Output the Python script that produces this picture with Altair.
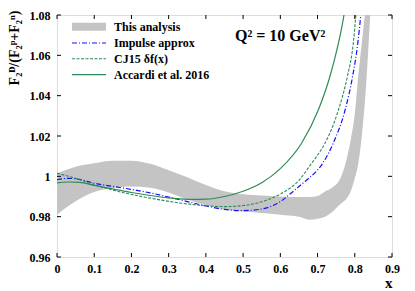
import altair as alt
import pandas as pd

# ---------------- data ----------------
band_x = [0.00, 0.05, 0.10, 0.15, 0.20, 0.25, 0.30, 0.35, 0.40, 0.45, 0.50, 0.55, 0.60, 0.65, 0.68,
          0.70, 0.72, 0.74, 0.76, 0.78, 0.79, 0.80, 0.81, 0.82, 0.83, 0.84, 0.85]
band_hi = [1.0015, 1.0048, 1.0065, 1.0077, 1.0077, 1.0062, 1.0030, 0.9995, 0.9957, 0.9926, 0.9911, 0.9905, 0.9900, 0.9897, 0.9897,
           0.9902, 0.9925, 0.9945, 0.9985, 1.0100, 1.0190, 1.0310, 1.0510, 1.0680, 1.0850, 1.1000, 1.1200]
band_lo = [0.9810, 0.9876, 0.9922, 0.9942, 0.9950, 0.9944, 0.9920, 0.9885, 0.9856, 0.9835, 0.9826, 0.9818, 0.9810, 0.9800, 0.9785,
           0.9790, 0.9800, 0.9825, 0.9860, 0.9895, 0.9930, 0.9990, 1.0070, 1.0220, 1.0440, 1.0750, 1.1100]

imp_x = [0.00, 0.03, 0.06, 0.10, 0.15, 0.20, 0.25, 0.30, 0.35, 0.40, 0.45, 0.50, 0.55, 0.60, 0.626, 0.65,
         0.671, 0.714, 0.742, 0.774, 0.794, 0.808, 0.816, 0.822]
imp_y = [0.9983, 0.9990, 0.9985, 0.9966, 0.9950, 0.9935, 0.9918, 0.9897, 0.9875, 0.9853, 0.9836, 0.9830, 0.9838, 0.9875, 0.9912, 0.9950,
         0.9982, 1.0065, 1.0164, 1.0329, 1.0494, 1.0660, 1.0800, 1.0950]

cj_x = [0.00, 0.05, 0.10, 0.15, 0.20, 0.25, 0.30, 0.35, 0.40, 0.45, 0.50, 0.55, 0.60, 0.65, 0.684, 0.70,
        0.72, 0.756, 0.78, 0.796, 0.803, 0.81]
cj_y = [1.0015, 0.9990, 0.9958, 0.9932, 0.9910, 0.9892, 0.9876, 0.9863, 0.9854, 0.9850, 0.9855, 0.9874, 0.9912, 0.9980, 1.0065, 1.0105,
        1.0164, 1.0329, 1.0494, 1.0660, 1.0800, 1.0950]

acc_x = [0.00, 0.03, 0.06, 0.10, 0.15, 0.20, 0.25, 0.30, 0.35, 0.40, 0.45, 0.50, 0.55, 0.60, 0.657,
         0.702, 0.733, 0.756, 0.771, 0.78]
acc_y = [0.9968, 0.9972, 0.9970, 0.9955, 0.9938, 0.9920, 0.9905, 0.9893, 0.9886, 0.9887, 0.9900, 0.9926, 0.9968, 1.0038, 1.0164,
         1.0329, 1.0494, 1.0660, 1.0800, 1.0920]

x_ticks = [0, 0.1, 0.2, 0.3, 0.4, 0.5, 0.6, 0.7, 0.8, 0.9]
y_ticks = [0.96, 0.98, 1.0, 1.02, 1.04, 1.06, 1.08]

legend_labels = ["This analysis", "Impulse approx", "CJ15 \u03b4f(x)", "Accardi et al. 2016"]
annotation = "Q\u00b2 = 10 GeV\u00b2"
y_title = "F\u2082\u1d30/(F\u2082\u1d56+F\u2082\u207f)"

# ---------------- styling ----------------
W, H = 335, 242
FONT = "Liberation Serif"
GRAY = "#c4c4c4"
BLUE = "#1010ff"
GREEN = "#2e8b57"

xs = alt.Scale(domain=[0, 0.9], nice=False, zero=False)
ys = alt.Scale(domain=[0.96, 1.08], nice=False, zero=False)

xax = alt.Axis(values=x_ticks, format="~g", title="x", titleAnchor="end", titleFont=FONT,
               titleFontSize=15, titleFontWeight="bold", titlePadding=1, titleColor="black",
               labelFont=FONT, labelFontSize=12, labelFontWeight="bold", labelColor="black",
               labelPadding=6, ticks=False, domain=False, grid=False, labelFlush=False)
yax = alt.Axis(values=y_ticks, format="~g", title=y_title, titleFont=FONT, titleFontSize=14,
               titleFontWeight="bold", titleColor="black", titleAnchor="end", titleAngle=-90,
               titleAlign="right", titleBaseline="middle", titleX=-43, titleY=-5,
               labelFont=FONT, labelFontSize=12, labelFontWeight="bold", labelColor="black",
               labelPadding=7, ticks=False, domain=False, grid=False, labelFlush=False)


def X(f):
    return alt.X(f, type="quantitative", scale=xs, axis=xax)


def Y(f):
    return alt.Y(f, type="quantitative", scale=ys, axis=yax)


band = alt.Chart(pd.DataFrame({"x": band_x, "lo": band_lo, "hi": band_hi})).mark_area(
    color=GRAY, clip=True, interpolate="monotone", opacity=1
).encode(x=X("x"), y=Y("lo"), y2="hi:Q")

imp = alt.Chart(pd.DataFrame({"x": imp_x, "y": imp_y})).mark_line(
    color=BLUE, strokeWidth=1.2, strokeDash=[5, 2, 1, 2], clip=True, interpolate="monotone"
).encode(x=X("x"), y=Y("y"))

cj = alt.Chart(pd.DataFrame({"x": cj_x, "y": cj_y})).mark_line(
    color=GREEN, strokeWidth=1.1, strokeDash=[3, 1.5], clip=True, interpolate="monotone"
).encode(x=X("x"), y=Y("y"))

acc = alt.Chart(pd.DataFrame({"x": acc_x, "y": acc_y})).mark_line(
    color=GREEN, strokeWidth=1.2, clip=True, interpolate="monotone"
).encode(x=X("x"), y=Y("y"))

# inward ticks on all four sides
xt = pd.DataFrame({"v": x_ticks})
yt = pd.DataFrame({"v": y_ticks})
tick_style = dict(color="black", strokeWidth=1)
xt_bot = alt.Chart(xt).mark_rule(**tick_style).encode(x=X("v"), y=alt.value(H), y2=alt.value(H - 4))
xt_top = alt.Chart(xt).mark_rule(**tick_style).encode(x=X("v"), y=alt.value(0), y2=alt.value(4))
yt_l = alt.Chart(yt).mark_rule(**tick_style).encode(y=Y("v"), x=alt.value(0), x2=alt.value(4))
yt_r = alt.Chart(yt).mark_rule(**tick_style).encode(y=Y("v"), x=alt.value(W), x2=alt.value(W - 4))

# legend (manual, top-left inside)
one = pd.DataFrame({"a": [0]})
rows_y = [11.7, 28, 43.7, 59.7]
sw_x0, sw_x1, txt_x = 15, 49, 57
leg = []
leg.append(alt.Chart(one).mark_rule(color=GRAY, strokeWidth=8).encode(
    x=alt.value(sw_x0), x2=alt.value(sw_x1), y=alt.value(rows_y[0])))
leg.append(alt.Chart(one).mark_rule(color=BLUE, strokeWidth=1.2, strokeDash=[5, 2, 1, 2]).encode(
    x=alt.value(sw_x0), x2=alt.value(sw_x1), y=alt.value(rows_y[1])))
leg.append(alt.Chart(one).mark_rule(color=GREEN, strokeWidth=1.1, strokeDash=[3, 1.5]).encode(
    x=alt.value(sw_x0), x2=alt.value(sw_x1), y=alt.value(rows_y[2])))
leg.append(alt.Chart(one).mark_rule(color=GREEN, strokeWidth=1.2).encode(
    x=alt.value(sw_x0), x2=alt.value(sw_x1), y=alt.value(rows_y[3])))
for lab, ry in zip(legend_labels, rows_y):
    leg.append(alt.Chart(one).mark_text(
        align="left", baseline="middle", font=FONT, fontSize=12, fontWeight="bold", color="black"
    ).encode(x=alt.value(txt_x), y=alt.value(ry), text=alt.value(lab)))

ann = alt.Chart(one).mark_text(
    align="left", baseline="middle", font=FONT, fontSize=16, fontWeight="bold", color="black"
).encode(x=alt.value(178), y=alt.value(21), text=alt.value(annotation))

chart = alt.layer(band, imp, cj, acc, xt_bot, xt_top, yt_l, yt_r, ann, *leg).properties(
    width=W, height=H, autosize="none",
    padding={"left": 49, "top": 7, "right": 15, "bottom": 34},
).configure_view(stroke="black", strokeWidth=1).configure(background="white")

chart.save("out.html", embed_options={"renderer": "svg", "actions": False})
